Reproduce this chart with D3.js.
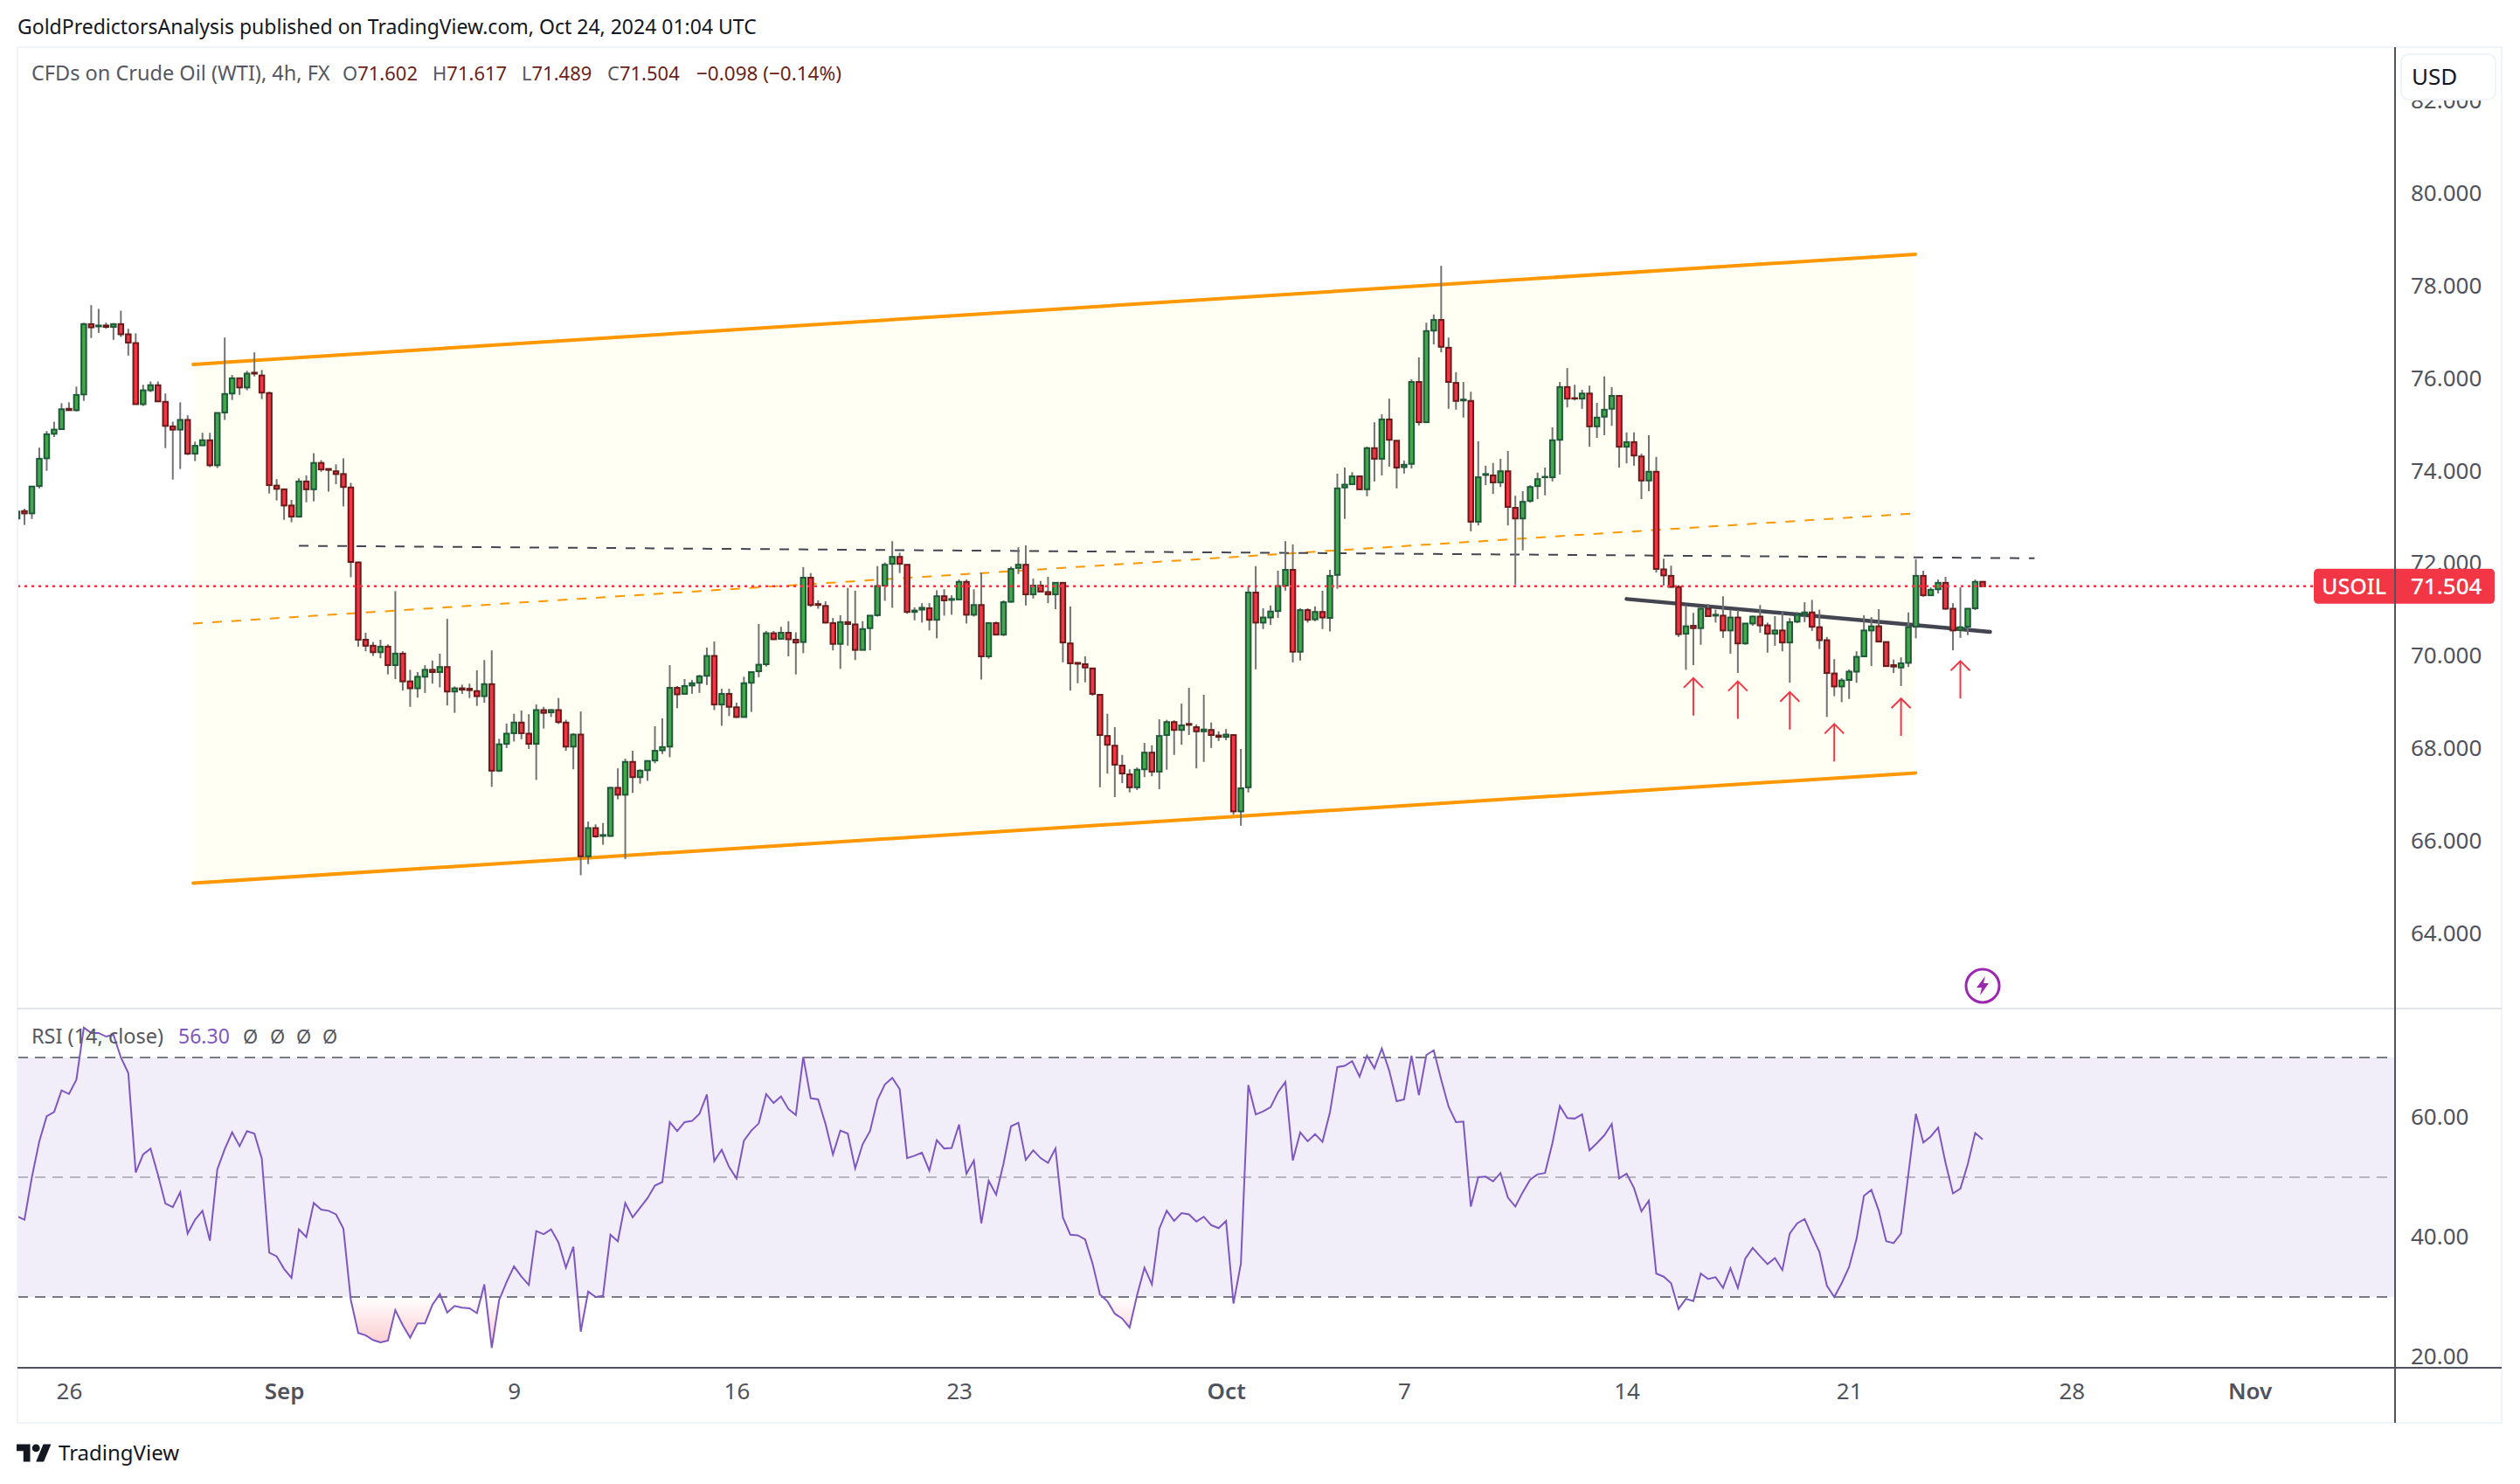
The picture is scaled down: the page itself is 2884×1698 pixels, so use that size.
<!DOCTYPE html>
<html lang="en">
<head>
<meta charset="utf-8">
<title>CFDs on Crude Oil (WTI), 4h</title>
<style type="text/css">
	body { margin: 0; padding: 0; background-color: white; }
	svg { display: block; }
	text { font-family: "Noto Sans", sans-serif; }
	.domain { display: none; }
	.axis text { fill: #50535e; font-size: 26px; font-family: "Noto Sans", sans-serif; }
</style>
</head>
<body>
<div id="anchor"></div>
<script src="https://d3js.org/d3.v7.min.js"></script>
<script type="text/javascript">

// 4h bars
const opens = [
	72.97,73.13,73.08,73.67,74.27,74.80,74.90,75.34,75.31,75.65,
	77.17,77.12,77.14,77.11,77.17,76.95,76.76,75.44,75.74,75.85,
	75.49,74.96,74.89,75.10,74.37,74.55,74.66,74.12,75.26,75.67,
	76.00,75.80,76.12,76.06,75.68,73.68,73.60,73.25,73.01,73.77,
	73.60,74.17,74.04,73.99,73.93,73.64,72.02,70.35,70.22,70.08,
	70.20,69.80,70.05,69.45,69.30,69.55,69.70,69.65,69.76,69.23,
	69.30,69.29,69.24,69.13,69.39,67.52,68.10,68.33,68.56,68.32,
	68.10,68.83,68.78,68.83,68.56,68.04,68.30,65.67,66.28,66.11,
	66.11,67.15,67.00,67.71,67.38,67.53,67.74,67.96,68.04,69.31,
	69.18,69.36,69.42,69.57,70.00,68.95,69.18,68.89,68.68,69.42,
	69.67,69.82,70.49,70.37,70.50,70.35,70.30,71.69,71.12,71.08,
	70.71,70.26,70.73,70.68,70.13,70.60,70.88,71.52,71.99,72.14,
	71.97,70.95,71.00,71.03,70.78,71.29,71.21,71.22,71.60,70.89,
	71.10,69.99,70.71,70.46,71.17,71.90,71.97,71.33,71.52,71.38,
	71.33,71.58,70.27,69.85,69.82,69.73,69.16,68.27,68.06,67.63,
	67.44,67.16,67.55,67.91,67.50,68.29,68.57,68.40,68.53,68.46,
	68.37,68.40,68.28,68.25,68.29,66.64,67.16,71.37,70.72,70.83,
	70.97,71.52,71.86,70.09,70.99,70.79,70.95,70.82,71.75,73.64,
	73.71,73.88,73.60,74.49,74.26,75.11,74.65,74.08,74.15,75.92,
	75.05,77.03,77.26,76.66,75.90,75.52,75.51,72.90,73.91,73.90,
	73.75,73.99,73.20,72.97,73.35,73.67,73.86,73.86,74.67,75.81,
	75.57,75.56,75.67,74.96,75.17,75.34,75.62,74.52,74.62,74.31,
	73.79,73.98,71.87,71.73,71.49,70.48,70.65,70.60,71.02,70.87,
	70.87,70.55,70.83,70.27,70.70,70.85,70.66,70.48,70.55,70.29,
	70.74,70.89,70.94,70.62,70.34,69.62,69.34,69.48,69.66,69.99,
	70.55,70.64,70.30,69.80,69.75,69.85,70.63,71.73,71.31,71.44,
	71.58,71.02,70.56,70.63,71.03,71.602
];
const highs = [
	73.13,73.18,73.66,74.50,74.86,75.06,75.46,75.48,75.82,77.20,
	77.58,77.50,77.20,77.19,77.46,77.07,76.97,75.86,75.93,75.93,
	75.67,75.06,75.48,75.20,74.63,74.82,74.82,75.25,76.88,76.07,
	76.00,76.16,76.56,76.18,75.71,73.82,73.60,73.37,73.84,73.90,
	74.38,74.23,74.04,74.14,74.27,73.74,72.04,70.50,70.30,70.35,
	70.25,71.40,70.10,69.70,69.65,69.80,69.90,70.05,70.80,69.34,
	69.38,69.40,69.69,69.91,70.12,68.21,68.54,68.75,68.82,68.74,
	68.95,68.90,68.85,69.09,68.62,68.33,68.80,66.42,66.36,66.39,
	67.17,67.57,67.78,67.95,67.55,67.73,68.48,68.65,69.80,69.35,
	69.50,69.48,69.59,70.18,70.31,69.29,69.29,68.99,69.55,69.65,
	70.69,70.54,70.54,70.63,70.75,70.51,71.92,71.79,71.20,71.18,
	70.82,70.88,71.47,71.41,70.75,70.87,71.94,72.02,72.48,72.23,
	71.97,71.05,71.14,71.14,71.42,71.44,71.31,71.65,71.65,71.44,
	71.80,70.71,70.74,71.20,71.93,72.35,72.39,71.67,71.62,71.71,
	71.58,71.58,71.07,69.85,69.99,69.73,69.16,68.75,68.46,67.86,
	67.55,67.59,68.12,68.07,68.63,68.62,68.61,68.97,69.31,68.52,
	69.16,68.56,68.37,68.42,68.29,67.99,71.51,71.94,71.03,71.09,
	71.84,72.48,72.41,71.03,71.03,71.07,71.41,71.86,73.94,74.07,
	73.97,73.90,74.52,75.05,75.22,75.56,74.65,74.22,75.98,76.45,
	77.20,77.38,78.43,76.88,76.13,75.92,75.71,74.64,74.11,74.17,
	74.26,74.43,73.46,73.56,73.69,73.96,74.07,74.94,75.92,76.22,
	75.86,75.75,75.84,75.47,76.04,75.81,75.62,74.83,74.83,74.37,
	74.77,74.30,72.10,71.95,71.53,71.08,70.93,71.05,71.12,71.00,
	71.29,70.99,70.99,70.70,70.87,71.10,70.72,70.86,70.97,70.82,
	70.95,71.16,71.21,71.00,70.41,69.93,69.52,69.71,70.10,70.88,
	70.84,71.01,70.30,69.92,69.97,70.94,72.09,71.84,71.48,71.65,
	71.71,71.14,71.48,71.03,71.65,71.617
];
const lows = [
	72.97,72.83,72.96,73.62,74.00,74.73,74.90,75.31,75.28,75.51,
	76.87,76.98,77.07,76.83,76.89,76.49,75.44,75.40,75.70,75.50,
	74.49,73.81,74.04,74.34,74.21,74.55,74.08,74.06,75.10,75.53,
	75.64,75.74,76.04,75.55,73.51,73.36,72.94,72.89,72.99,73.32,
	73.34,73.98,73.55,73.71,73.23,71.70,70.20,70.10,70.00,69.95,
	69.60,69.50,69.25,68.90,69.10,69.20,69.40,69.32,68.93,68.77,
	69.18,69.09,68.92,68.99,67.17,67.49,68.01,68.15,68.20,67.99,
	67.32,68.43,68.68,68.53,67.95,67.55,65.26,65.50,66.07,65.92,
	66.09,66.90,65.61,67.04,67.24,67.30,67.68,67.88,67.81,68.87,
	69.18,69.18,69.20,69.37,68.83,68.49,68.70,68.66,68.68,68.79,
	69.54,69.77,70.36,70.37,69.99,69.60,70.06,71.06,71.02,70.70,
	70.12,69.72,70.22,69.91,70.13,70.12,70.85,71.19,71.04,71.79,
	70.91,70.77,70.72,70.55,70.38,70.87,70.89,71.22,70.70,70.85,
	69.49,69.94,70.46,70.43,71.15,71.77,71.09,71.24,71.39,71.14,
	71.01,69.86,69.25,69.41,69.43,69.14,67.16,67.46,66.95,67.25,
	67.05,67.10,67.38,67.40,67.12,67.54,67.86,68.08,68.29,67.57,
	67.71,68.01,68.16,68.18,66.57,66.33,67.05,69.71,70.58,70.67,
	70.82,71.41,69.86,69.90,70.72,70.75,70.58,70.53,71.45,72.96,
	73.71,73.60,73.45,73.77,73.90,74.09,73.62,73.94,74.05,74.98,
	75.05,76.73,76.56,75.34,75.32,75.15,72.69,72.82,73.69,73.50,
	73.65,72.82,71.54,72.28,73.31,73.39,73.47,73.77,73.92,75.37,
	75.52,75.34,74.52,74.71,74.77,74.97,74.07,74.16,74.11,73.39,
	73.56,71.80,71.52,71.49,70.41,69.70,69.80,70.24,70.86,70.72,
	70.39,70.05,69.63,70.24,70.65,70.50,70.07,70.22,70.10,69.42,
	70.71,70.73,70.54,70.15,68.68,69.13,69.00,69.07,69.42,69.99,
	69.78,70.31,69.78,69.63,69.35,69.76,70.38,71.28,71.31,71.35,
	71.00,70.12,70.39,70.45,70.99,71.489
];
const closes = [
	73.12,73.08,73.66,74.26,74.79,74.89,75.33,75.31,75.64,77.17,
	77.10,77.14,77.11,77.17,76.95,76.77,75.44,75.74,75.85,75.50,
	74.97,74.89,75.10,74.37,74.54,74.66,74.12,75.25,75.66,76.00,
	75.80,76.10,76.10,75.69,73.69,73.61,73.25,73.01,73.77,73.60,
	74.17,74.03,74.02,73.93,73.65,72.03,70.35,70.22,70.08,70.20,
	69.80,70.05,69.45,69.30,69.55,69.70,69.65,69.76,69.23,69.30,
	69.27,69.26,69.13,69.39,67.52,68.09,68.32,68.56,68.33,68.10,
	68.83,68.77,68.83,68.57,68.04,68.30,65.67,66.28,66.10,66.13,
	67.15,67.00,67.71,67.38,67.52,67.73,67.95,68.03,69.31,69.17,
	69.35,69.41,69.56,70.00,68.95,69.18,68.90,68.68,69.41,69.65,
	69.81,70.49,70.36,70.50,70.36,70.29,71.69,71.10,71.10,70.72,
	70.26,70.73,70.69,70.13,70.58,70.87,71.51,71.97,72.14,71.99,
	70.95,70.98,71.04,70.78,71.29,71.20,71.23,71.60,70.89,71.10,
	69.99,70.71,70.46,71.16,71.88,71.97,71.33,71.52,71.39,71.33,
	71.58,70.29,69.84,69.83,69.75,69.18,68.29,68.08,67.65,67.46,
	67.16,67.54,67.91,67.50,68.27,68.57,68.40,68.50,68.51,68.37,
	68.41,68.29,68.25,68.30,66.64,67.14,71.37,70.72,70.83,70.96,
	71.51,71.86,70.09,70.99,70.78,70.95,70.83,71.73,73.62,73.70,
	73.88,73.60,74.49,74.26,75.11,74.67,74.07,74.13,75.92,75.05,
	77.02,77.26,76.68,75.92,75.51,75.54,72.90,73.86,73.93,73.75,
	73.99,73.22,72.97,73.33,73.65,73.82,73.87,74.66,75.81,75.56,
	75.56,75.67,74.96,75.15,75.32,75.62,74.52,74.62,74.33,73.79,
	73.98,71.88,71.74,71.49,70.47,70.64,70.60,71.02,70.86,70.89,
	70.55,70.83,70.27,70.70,70.85,70.66,70.48,70.55,70.29,70.73,
	70.89,70.94,70.63,70.34,69.63,69.34,69.47,69.66,69.98,70.55,
	70.64,70.31,69.78,69.77,69.84,70.62,71.73,71.31,71.43,71.58,
	71.02,70.55,70.62,71.02,71.60,71.504
];
const rsiValues = [
	43.5,42.9,50.0,56.0,60.2,60.9,64.5,63.9,66.3,75.0,
	74.1,74.1,73.5,73.8,70.0,67.4,50.8,53.8,54.8,50.4,
	45.6,45.0,47.5,40.6,42.9,44.4,39.4,51.3,54.7,57.5,
	55.2,57.7,57.3,53.1,37.4,36.8,34.7,33.2,41.3,40.0,
	45.7,44.6,44.4,43.8,41.4,29.5,24.0,23.6,22.8,22.4,
	22.7,27.8,25.3,23.2,25.6,25.6,28.7,30.5,27.4,28.5,
	28.2,28.1,27.3,32.1,21.5,29.5,32.5,35.1,33.4,32.0,
	41.0,40.5,41.3,39.1,34.9,38.4,24.2,30.9,30.0,30.2,
	40.4,39.3,45.7,43.3,44.9,46.5,48.6,49.2,59.2,57.7,
	59.2,59.4,60.6,63.8,52.7,54.6,51.7,49.8,56.1,57.8,
	59.0,63.9,62.4,63.5,61.4,60.4,70.1,63.2,63.0,58.9,
	53.8,57.8,57.3,51.5,55.5,57.7,62.9,65.5,66.6,64.7,
	53.2,53.6,54.1,51.1,56.2,54.8,54.9,58.8,50.6,52.8,
	42.3,49.4,47.1,52.3,58.5,59.1,52.9,54.5,53.2,52.4,
	54.8,43.3,40.4,40.3,39.6,35.6,30.4,29.3,27.2,26.4,
	24.9,30.3,34.9,32.1,41.4,44.4,42.7,44.0,43.8,42.6,
	43.4,42.0,41.5,42.7,28.9,35.6,65.4,60.5,61.0,61.7,
	64.2,65.9,52.8,57.5,56.0,57.2,55.9,60.8,68.4,68.6,
	69.4,66.8,70.3,68.2,71.5,67.8,62.7,63.0,70.3,63.7,
	70.4,71.2,66.3,61.8,59.2,59.3,45.1,50.0,50.1,49.3,
	50.7,46.6,45.1,47.5,49.6,50.5,50.7,55.7,61.9,59.9,
	59.8,60.5,54.5,55.7,57.0,58.9,49.8,50.6,48.2,44.3,
	46.1,33.9,33.4,32.3,28.0,29.7,29.3,33.9,33.0,33.3,
	31.5,34.8,31.5,36.4,38.2,36.8,35.5,36.5,34.5,40.6,
	42.3,43.0,40.2,37.5,31.9,30.0,32.3,35.0,39.7,46.9,
	47.9,44.4,39.3,39.0,40.6,50.6,60.6,55.8,56.8,58.3,
	52.4,47.3,48.1,52.2,57.4,56.3
];

const priceTicks = [82, 80, 78, 76, 74, 72, 70, 68, 66, 64];
const rsiTicks = [60, 40, 20];
const rsiLevels = [70, 50, 30];
const timeBars = [7, 36, 67, 97, 127, 163, 187, 217, 247, 277, 301];
const timeLabels = ["26", "Sep", "9", "16", "23", "Oct", "7", "14", "21", "28", "Nov"];
const monthLabels = ["Sep", "Oct", "Nov"];

// drawings, bar index and price
const channelBars = [23.74, 255.95];
const channelTop = [76.30, 78.68];
const channelMid = [70.70, 73.08];
const channelBottom = [65.09, 67.47];
const resistanceBars = [38, 272];
const resistancePrices = [72.38, 72.11];
const neckBars = [217, 266];
const neckPrices = [71.23, 70.52];
const arrowBars = [226, 232, 239, 245, 254, 262];
const arrowTips = [69.52, 69.45, 69.22, 68.53, 69.08, 69.89];
const arrowTails = [68.71, 68.64, 68.41, 67.72, 68.27, 69.08];
const lastPrice = 71.504;

const width = 2884,
	height = 1698,
	frame = {left: 20, top: 54, right: 2863, bottom: 1628},
	axisX = 2741,
	paneBottom = 1154,
	timeY = 1565,
	colorUp = "#43a84a",
	colorUpBorder = "#1e5a3a",
	colorDown = "#f23645",
	colorDownBorder = "#6b1a1a",
	colorWick = "#737375",
	colorOrange = "#ff9800",
	colorDark = "#434651",
	colorRsi = "#7e57c2";

const xScale = d3.scaleLinear().domain([0, 265]).range([19.5, 2269]);
const yScale = d3.scaleLinear().domain([64, 80]).range([1068.2, 221]);
const rsiScale = d3.scaleLinear().domain([30, 70]).range([1484, 1210]);

const svg = d3.select("#anchor").append("svg")
	.attr("width", width)
	.attr("height", height);

const defs = svg.append("defs");

defs.append("clipPath").attr("id", "priceClip").append("rect")
	.attr("x", frame.left).attr("y", frame.top)
	.attr("width", axisX - frame.left).attr("height", paneBottom - frame.top);

defs.append("clipPath").attr("id", "priceAxisClip").append("rect")
	.attr("x", axisX).attr("y", frame.top)
	.attr("width", frame.right - axisX).attr("height", paneBottom - frame.top);

defs.append("clipPath").attr("id", "aboveClip").append("rect")
	.attr("x", frame.left).attr("y", paneBottom)
	.attr("width", axisX - frame.left).attr("height", rsiScale(70) - paneBottom);

defs.append("clipPath").attr("id", "belowClip").append("rect")
	.attr("x", frame.left).attr("y", rsiScale(30))
	.attr("width", axisX - frame.left).attr("height", timeY - rsiScale(30));

defs.append("clipPath").attr("id", "rsiClip").append("rect")
	.attr("x", frame.left).attr("y", paneBottom)
	.attr("width", axisX - frame.left).attr("height", timeY - paneBottom);

const gradAbove = defs.append("linearGradient").attr("id", "gradAbove")
	.attr("gradientUnits", "userSpaceOnUse")
	.attr("x1", 0).attr("x2", 0).attr("y1", rsiScale(70)).attr("y2", rsiScale(76));
gradAbove.append("stop").attr("offset", 0).attr("stop-color", "#4caf50").attr("stop-opacity", 0);
gradAbove.append("stop").attr("offset", 1).attr("stop-color", "#4caf50").attr("stop-opacity", 0.16);

const gradBelow = defs.append("linearGradient").attr("id", "gradBelow")
	.attr("gradientUnits", "userSpaceOnUse")
	.attr("x1", 0).attr("x2", 0).attr("y1", rsiScale(30)).attr("y2", rsiScale(22));
gradBelow.append("stop").attr("offset", 0).attr("stop-color", "#f23645").attr("stop-opacity", 0);
gradBelow.append("stop").attr("offset", 1).attr("stop-color", "#f23645").attr("stop-opacity", 0.26);

drawDrawings();
drawCandles();
drawOverlay();
drawRsi();
drawAxes();
drawFrame();
drawTexts();

function drawDrawings(){

	const pane = svg.append("g").attr("clip-path", "url(#priceClip)");

	const band = d3.area()
		.x(function(d){ return xScale(d); })
		.y0(function(_, i){ return yScale(channelBottom[i]); })
		.y1(function(_, i){ return yScale(channelTop[i]); });

	pane.append("path")
		.datum(channelBars)
		.attr("d", band)
		.style("fill", "#fffff3");

	const trend = function(bars, prices){
		return d3.line()
			.x(function(d){ return xScale(d); })
			.y(function(_, i){ return yScale(prices[i]); })(bars);
	};

	[channelTop, channelBottom].forEach(function(prices){
		pane.append("path")
			.attr("d", trend(channelBars, prices))
			.style("fill", "none")
			.style("stroke", colorOrange)
			.style("stroke-width", 4)
			.style("stroke-linecap", "round");
	});

	pane.append("path")
		.attr("d", trend(channelBars, channelMid))
		.style("fill", "none")
		.style("stroke", colorOrange)
		.style("stroke-width", 2)
		.style("stroke-dasharray", "11,11");

	pane.append("path")
		.attr("d", trend(resistanceBars, resistancePrices))
		.style("fill", "none")
		.style("stroke", colorDark)
		.style("stroke-width", 2)
		.style("stroke-dasharray", "11,11");

	pane.append("path")
		.attr("d", trend(neckBars, neckPrices))
		.style("fill", "none")
		.style("stroke", colorDark)
		.style("stroke-width", 4.5)
		.style("stroke-linecap", "round");

};

function drawCandles(){

	const bars = svg.append("g")
		.attr("clip-path", "url(#priceClip)")
		.selectAll("g")
		.data(d3.range(opens.length))
		.enter()
		.append("g");

	bars.append("line")
		.attr("x1", function(d){ return xScale(d); })
		.attr("x2", function(d){ return xScale(d); })
		.attr("y1", function(d){ return yScale(highs[d]); })
		.attr("y2", function(d){ return yScale(lows[d]); })
		.style("stroke", colorWick)
		.style("stroke-width", 2);

	bars.append("rect")
		.attr("x", function(d){ return xScale(d) - 2.75; })
		.attr("width", 5.5)
		.attr("y", function(d){ return yScale(Math.max(opens[d], closes[d])); })
		.attr("height", function(d){ return Math.abs(yScale(opens[d]) - yScale(closes[d])); })
		.style("fill", function(d){ return closes[d] >= opens[d] ? colorUp : colorDown; })
		.style("stroke", function(d){ return closes[d] >= opens[d] ? colorUpBorder : colorDownBorder; })
		.style("stroke-width", 2);

};

function drawOverlay(){

	svg.append("line")
		.attr("x1", frame.left)
		.attr("x2", 2648)
		.attr("y1", yScale(lastPrice))
		.attr("y2", yScale(lastPrice))
		.style("stroke", colorDown)
		.style("stroke-width", 2.5)
		.style("stroke-dasharray", "3,5");

	const arrows = svg.selectAll(null)
		.data(arrowBars)
		.enter()
		.append("path")
		.attr("d", function(d, i){
			const x = xScale(d),
				tip = yScale(arrowTips[i]),
				tail = yScale(arrowTails[i]);
			return "M" + x + "," + tail + "L" + x + "," + tip +
				"M" + (x - 11) + "," + (tip + 11) + "L" + x + "," + tip + "L" + (x + 11) + "," + (tip + 11);
		})
		.style("fill", "none")
		.style("stroke", colorDown)
		.style("stroke-width", 2);

	// earnings style marker under the last bar
	const marker = svg.append("g")
		.attr("transform", "translate(" + xScale(265) + ",1128)");

	marker.append("circle")
		.attr("r", 19)
		.style("fill", "white")
		.style("stroke", "#9c27b0")
		.style("stroke-width", 3);

	marker.append("path")
		.attr("d", "M3,-11L-7,2L-1,2L-3,11L7,-3L1,-3Z")
		.style("fill", "#9c27b0");

};

function drawRsi(){

	const pane = svg.append("g");

	pane.append("rect")
		.attr("x", frame.left)
		.attr("width", axisX - frame.left)
		.attr("y", rsiScale(70))
		.attr("height", rsiScale(30) - rsiScale(70))
		.style("fill", colorRsi)
		.style("fill-opacity", 0.1);

	const areaTo = function(level){
		return d3.area()
			.x(function(_, i){ return xScale(i); })
			.y0(rsiScale(level))
			.y1(function(d){ return rsiScale(d); });
	};

	pane.append("path")
		.datum(rsiValues)
		.attr("clip-path", "url(#aboveClip)")
		.attr("d", areaTo(70))
		.style("fill", "url(#gradAbove)");

	pane.append("path")
		.datum(rsiValues)
		.attr("clip-path", "url(#belowClip)")
		.attr("d", areaTo(30))
		.style("fill", "url(#gradBelow)");

	pane.selectAll(null)
		.data(rsiLevels)
		.enter()
		.append("line")
		.attr("x1", frame.left)
		.attr("x2", axisX)
		.attr("y1", function(d){ return rsiScale(d); })
		.attr("y2", function(d){ return rsiScale(d); })
		.style("stroke", "#787b86")
		.style("stroke-opacity", function(d){ return d === 50 ? 0.5 : 1; })
		.style("stroke-width", 2)
		.style("stroke-dasharray", "12,8");

	const line = d3.line()
		.x(function(_, i){ return xScale(i); })
		.y(function(d){ return rsiScale(d); });

	pane.append("path")
		.datum(rsiValues)
		.attr("clip-path", "url(#rsiClip)")
		.attr("d", line)
		.style("fill", "none")
		.style("stroke", colorRsi)
		.style("stroke-width", 2);

};

function drawAxes(){

	const priceAxis = d3.axisRight(yScale)
		.tickValues(priceTicks)
		.tickFormat(d3.format(".3f"))
		.tickSize(0)
		.tickPadding(18);

	svg.append("g")
		.attr("class", "axis")
		.attr("clip-path", "url(#priceAxisClip)")
		.append("g")
		.attr("transform", "translate(" + axisX + ",0)")
		.call(priceAxis);

	const rsiAxis = d3.axisRight(rsiScale)
		.tickValues(rsiTicks)
		.tickFormat(d3.format(".2f"))
		.tickSize(0)
		.tickPadding(18);

	svg.append("g")
		.attr("class", "axis")
		.attr("transform", "translate(" + axisX + ",0)")
		.call(rsiAxis);

	const timeAxis = d3.axisBottom(xScale)
		.tickValues(timeBars)
		.tickFormat(function(_, i){ return timeLabels[i]; })
		.tickSize(0)
		.tickPadding(18);

	const gTime = svg.append("g")
		.attr("class", "axis")
		.attr("transform", "translate(0," + timeY + ")")
		.call(timeAxis);

	gTime.selectAll("text")
		.style("font-weight", function(_, i){
			return monthLabels.indexOf(timeLabels[i]) > -1 ? 600 : 400;
		});

};

function drawFrame(){

	svg.append("rect")
		.attr("x", frame.left)
		.attr("y", frame.top)
		.attr("width", frame.right - frame.left)
		.attr("height", frame.bottom - frame.top)
		.style("fill", "none")
		.style("stroke", "#f0f3fa")
		.style("stroke-width", 2);

	svg.append("line")
		.attr("x1", frame.left).attr("x2", frame.right)
		.attr("y1", paneBottom).attr("y2", paneBottom)
		.style("stroke", "#e0e3eb")
		.style("stroke-width", 2);

	svg.append("line")
		.attr("x1", frame.left).attr("x2", frame.right)
		.attr("y1", timeY).attr("y2", timeY)
		.style("stroke", "#50535e")
		.style("stroke-width", 2);

	// last price label sits on top of the tick labels
	svg.append("rect")
		.attr("x", 2648)
		.attr("y", yScale(lastPrice) - 20)
		.attr("width", 207)
		.attr("height", 40)
		.attr("rx", 5)
		.style("fill", colorDown);

	svg.append("line")
		.attr("x1", axisX).attr("x2", axisX)
		.attr("y1", frame.top).attr("y2", frame.bottom)
		.style("stroke", "#50535e")
		.style("stroke-width", 2);

	svg.append("rect")
		.attr("x", 2748)
		.attr("y", 62)
		.attr("width", 108)
		.attr("height", 52)
		.attr("rx", 9)
		.style("fill", "white")
		.style("stroke", "#f0f3fa")
		.style("stroke-width", 2);

};

function drawTexts(){

	const addText = function(x, y, str, size, color, anchor){
		return svg.append("text")
			.attr("x", x)
			.attr("y", y)
			.attr("dy", "0.35em")
			.attr("text-anchor", anchor || "start")
			.style("font-size", size + "px")
			.style("fill", color)
			.text(str);
	};

	const legendGray = "#555861",
		legendRed = "#6b1f1a";

	addText(20, 31, "GoldPredictorsAnalysis published on TradingView.com, Oct 24, 2024 01:04 UTC", 23, "#131722");

	addText(36, 84, "CFDs on Crude Oil (WTI), 4h, FX", 23.5, legendGray);
	[[392, "O", "71.602"], [495, "H", "71.617"], [597, "L", "71.489"], [695, "C", "71.504"]].forEach(function(d){
		const t = addText(d[0], 84, d[1], 22, legendGray);
		t.append("tspan").style("fill", legendRed).text(d[2]);
	});
	addText(797, 84, "\u22120.098 (\u22120.14%)", 22.5, legendRed);

	addText(36, 1186, "RSI (14, close)", 23.5, legendGray);
	addText(204, 1186, "56.30", 23, colorRsi);
	[278, 309, 339, 369].forEach(function(x){
		addText(x, 1186, "\u00d8", 22, legendGray);
	});

	addText(2760, 88, "USD", 26, "#131722");

	addText(2694, yScale(lastPrice), "USOIL", 25, "white", "middle").style("font-weight", 500);
	addText(2759, yScale(lastPrice), "71.504", 26, "white").style("font-weight", 500);

	// logo and wordmark
	const logo = svg.append("g")
		.attr("transform", "translate(19,1648) scale(1.11)");
	logo.append("path")
		.attr("d", "M14 22H7V11H0V4h14v18zM28 22h-8l7.5-18h8L28 22z")
		.style("fill", "#131722");
	logo.append("circle")
		.attr("cx", 20).attr("cy", 8).attr("r", 4)
		.style("fill", "#131722");

	addText(67, 1663, "TradingView", 24, "#131722");

};

</script>
</body>
</html>
